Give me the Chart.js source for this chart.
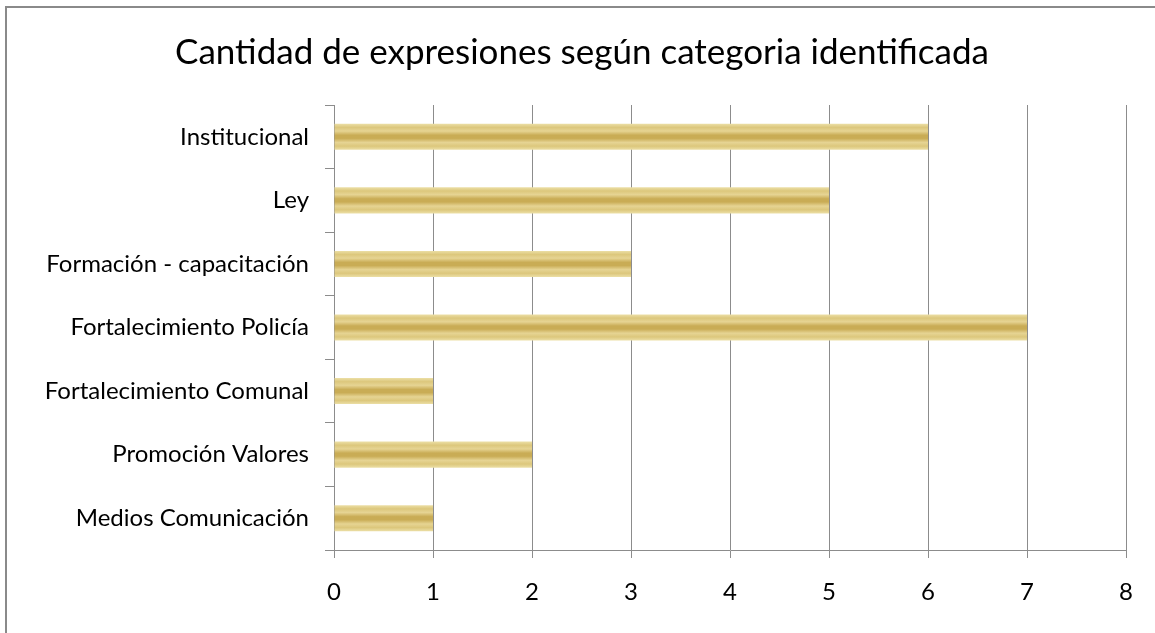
<!DOCTYPE html>
<html>
<head>
<meta charset="utf-8">
<script src="https://cdn.jsdelivr.net/npm/chart.js@4.4.1/dist/chart.umd.min.js"></script>
<style>
  html, body { margin: 0; padding: 0; background: #fff; }
  #wrap { position: relative; width: 1155px; height: 633px; overflow: hidden; }
  #frame { position: absolute; left: 5px; top: 6px; width: 1160px; height: 640px;
           border: 2px solid #8a8a8a; box-sizing: border-box; }
  canvas { position: absolute; left: 0; top: 0; }
</style>
</head>
<body>
<div id="wrap">
  <div id="frame"></div>
  <canvas id="barChart" width="1155" height="633"></canvas>
</div>
<script>
// data
const categories = [
  "Institucional",
  "Ley",
  "Formación - capacitación",
  "Fortalecimiento Policía",
  "Fortalecimiento Comunal",
  "Promoción Valores",
  "Medios Comunicación"
];
const counts = [6, 5, 3, 7, 1, 2, 1];
const xTicks = [0, 1, 2, 3, 4, 5, 6, 7, 8];

const gridGray = "#8c8c8c";
const fontFam = "Lato, 'Open Sans', sans-serif";

// striped gold fill, built per bar from the y scale
function barFill(context) {
  const chart = context.chart;
  if (!chart.chartArea || !chart.scales.y) return "#d8c070";
  const y = chart.scales.y;
  const c = y.getPixelForValue(context.dataIndex);
  const band = Math.abs(y.getPixelForValue(1) - y.getPixelForValue(0));
  const h = band * 0.41 / 2;
  const g = chart.ctx.createLinearGradient(0, c - h, 0, c + h);
  g.addColorStop(0.00, "#ecdfa6");
  g.addColorStop(0.14, "#dcc77c");
  g.addColorStop(0.28, "#e6d493");
  g.addColorStop(0.44, "#c9ac55");
  g.addColorStop(0.56, "#c9ac55");
  g.addColorStop(0.72, "#e6d493");
  g.addColorStop(0.86, "#dcc77c");
  g.addColorStop(1.00, "#ecdfa6");
  return g;
}

const ctx = document.getElementById("barChart").getContext("2d");
new Chart(ctx, {
  type: "bar",
  data: {
    labels: categories,
    datasets: [{
      label: "Cantidad",
      data: counts,
      backgroundColor: barFill,
      borderWidth: 0,
      categoryPercentage: 1,
      barPercentage: 0.41
    }]
  },
  options: {
    indexAxis: "y",
    responsive: false,
    animation: false,
    // left pad + y width = 334, keeps title centred like the original
    layout: { padding: { left: 38, right: 29, top: 0, bottom: 0 } },
    plugins: {
      legend: { display: false },
      tooltip: { enabled: false },
      title: {
        display: true,
        text: "Cantidad de expresiones según categoria identificada",
        color: "#000",
        font: { family: fontFam, size: 35, weight: "normal" },
        padding: { top: 32, bottom: 31 }
      }
    },
    scales: {
      x: {
        min: 0,
        max: 8,
        afterBuildTicks: (s) => { s.ticks = xTicks.map(v => ({ value: v })); },
        afterFit: (s) => { s.height = 83; },
        ticks: { color: "#000", font: { family: fontFam, size: 24 }, padding: 20 },
        grid: { color: gridGray, lineWidth: 1, tickLength: 8, drawTicks: true },
        border: { color: gridGray, width: 1 }
      },
      y: {
        afterFit: (s) => { s.width = 296; },
        ticks: { color: "#000", font: { family: fontFam, size: 24 }, padding: 16 },
        grid: { drawOnChartArea: false, color: gridGray, tickLength: 9, offset: true },
        border: { color: gridGray, width: 1 }
      }
    }
  }
});
</script>
</body>
</html>
